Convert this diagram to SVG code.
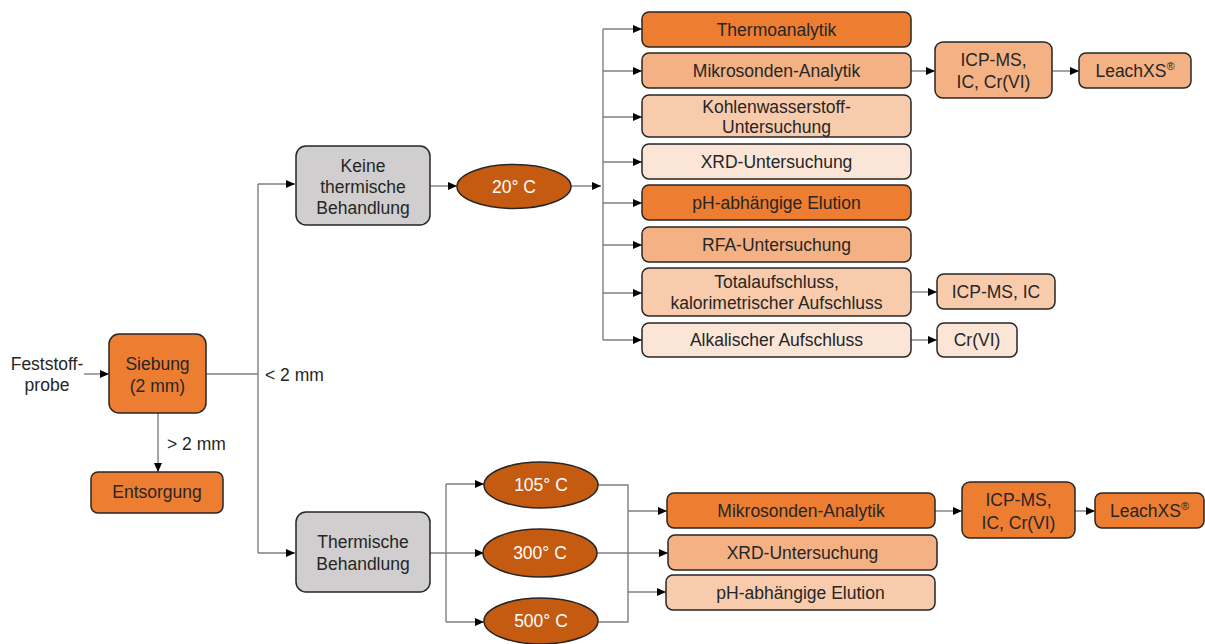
<svg xmlns="http://www.w3.org/2000/svg" width="1205" height="644" viewBox="0 0 1205 644">
<style>
.box{stroke:#262626;stroke-width:1.5}
.gray{fill:#D0CECE}
.o1{fill:#ED7D31}
.o2{fill:#F4B183}
.o3{fill:#F8CBAD}
.o4{fill:#FBE5D6}
.ell{fill:#C55A11;stroke:#262626;stroke-width:1.5}
text{font-family:"Liberation Sans",Arial,sans-serif;font-size:17.5px;fill:#262626;text-anchor:middle}
.w{fill:#FFFFFF}
.l{text-anchor:start}
.conn path{fill:none;stroke:#7F7F7F;stroke-width:1.4}
.sup{font-size:11px}
</style>
<defs>
<marker id="ah" markerUnits="userSpaceOnUse" markerWidth="9" markerHeight="8" refX="9" refY="4" orient="auto">
<path d="M0,0 L9,4 L0,8 z" fill="#000"/>
</marker>
</defs>

<g class="conn">
<path d="M84 374 H109" marker-end="url(#ah)"/>
<path d="M206 374 H258"/>
<path d="M258 184 V553"/>
<path d="M258 184 H295" marker-end="url(#ah)"/>
<path d="M258 553 H295" marker-end="url(#ah)"/>
<path d="M158 413 V472" marker-end="url(#ah)"/>
<path d="M430 186 H457" marker-end="url(#ah)"/>
<path d="M571 186 H601" marker-end="url(#ah)"/>
<path d="M603 29 V340"/>
<path d="M603 29 H642" marker-end="url(#ah)"/>
<path d="M603 71 H642" marker-end="url(#ah)"/>
<path d="M603 117 H642" marker-end="url(#ah)"/>
<path d="M603 162 H642" marker-end="url(#ah)"/>
<path d="M603 203 H642" marker-end="url(#ah)"/>
<path d="M603 245 H642" marker-end="url(#ah)"/>
<path d="M603 293 H642" marker-end="url(#ah)"/>
<path d="M603 340 H642" marker-end="url(#ah)"/>
<path d="M911 71 H935" marker-end="url(#ah)"/>
<path d="M1052 71 H1079" marker-end="url(#ah)"/>
<path d="M911 292 H937" marker-end="url(#ah)"/>
<path d="M911 340 H937" marker-end="url(#ah)"/>
<path d="M430 553 H484" marker-end="url(#ah)"/>
<path d="M446 484 V622"/>
<path d="M446 484 H484" marker-end="url(#ah)"/>
<path d="M446 622 H484" marker-end="url(#ah)"/>
<path d="M598 485 H628 V622 H598"/>
<path d="M628 511 H667" marker-end="url(#ah)"/>
<path d="M628 592 H666" marker-end="url(#ah)"/>
<path d="M597 553 H668" marker-end="url(#ah)"/>
<path d="M935 511 H962" marker-end="url(#ah)"/>
<path d="M1075 511 H1095" marker-end="url(#ah)"/>
</g>

<g id="label-feststoff">
<text x="47" y="370">Feststoff-</text>
<text x="47" y="391">probe</text>
</g>
<g id="label-lt2">
<text class="l" x="265" y="381">&lt; 2 mm</text>
</g>
<g id="label-gt2">
<text class="l" x="167" y="450">&gt; 2 mm</text>
</g>

<g id="siebung">
<rect class="box o1" x="109" y="334" width="97" height="79" rx="10"/>
<text x="157.5" y="370">Siebung</text>
<text x="157.5" y="392">(2 mm)</text>
</g>
<g id="entsorgung">
<rect class="box o1" x="91" y="472" width="132" height="41" rx="7"/>
<text x="157" y="498">Entsorgung</text>
</g>

<g id="keine">
<rect class="box gray" x="296" y="146" width="134" height="79" rx="10"/>
<text x="363" y="172">Keine</text>
<text x="363" y="193">thermische</text>
<text x="363" y="214">Behandlung</text>
</g>
<g id="t20">
<ellipse class="ell" cx="514" cy="186.5" rx="57" ry="22"/>
<text class="w" x="514" y="192.5">20° C</text>
</g>

<g id="thermoanalytik">
<rect class="box o1" x="642" y="12" width="269" height="35" rx="7"/>
<text x="776.5" y="35.5">Thermoanalytik</text>
</g>
<g id="mikrosonden1">
<rect class="box o2" x="642" y="53" width="269" height="35" rx="7"/>
<text x="776.5" y="76.5">Mikrosonden-Analytik</text>
</g>
<g id="kohlenwasserstoff">
<rect class="box o3" x="642" y="95" width="269" height="42" rx="7"/>
<text x="776.5" y="113">Kohlenwasserstoff-</text>
<text x="776.5" y="133">Untersuchung</text>
</g>
<g id="xrd1">
<rect class="box o4" x="642" y="144" width="269" height="35" rx="7"/>
<text x="776.5" y="167.5">XRD-Untersuchung</text>
</g>
<g id="ph1">
<rect class="box o1" x="642" y="185" width="269" height="35" rx="7"/>
<text x="776.5" y="208.5">pH-abhängige Elution</text>
</g>
<g id="rfa">
<rect class="box o2" x="642" y="227" width="269" height="35" rx="7"/>
<text x="776.5" y="250.5">RFA-Untersuchung</text>
</g>
<g id="totalaufschluss">
<rect class="box o3" x="642" y="268" width="269" height="48" rx="7"/>
<text x="776.5" y="288">Totalaufschluss,</text>
<text x="776.5" y="309">kalorimetrischer Aufschluss</text>
</g>
<g id="alkalisch">
<rect class="box o4" x="642" y="323" width="269" height="34" rx="7"/>
<text x="776.5" y="346">Alkalischer Aufschluss</text>
</g>

<g id="icp1">
<rect class="box o2" x="935" y="42" width="117" height="56" rx="8"/>
<text x="993.5" y="66">ICP-MS,</text>
<text x="993.5" y="88">IC, Cr(VI)</text>
</g>
<g id="leach1">
<rect class="box o2" x="1079" y="53" width="112" height="35" rx="7"/>
<text x="1135" y="76.5">LeachXS<tspan class="sup" dy="-7">®</tspan></text>
</g>
<g id="icp2">
<rect class="box o3" x="937" y="274" width="118" height="35" rx="7"/>
<text x="996" y="297.5">ICP-MS, IC</text>
</g>
<g id="cr6">
<rect class="box o4" x="937" y="323" width="80" height="34" rx="7"/>
<text x="977" y="346">Cr(VI)</text>
</g>

<g id="thermische">
<rect class="box gray" x="296" y="512" width="134" height="80" rx="10"/>
<text x="363" y="548">Thermische</text>
<text x="363" y="570">Behandlung</text>
</g>
<g id="t105">
<ellipse class="ell" cx="541" cy="485" rx="57" ry="23"/>
<text class="w" x="541" y="491">105° C</text>
</g>
<g id="t300">
<ellipse class="ell" cx="540" cy="553" rx="57" ry="24"/>
<text class="w" x="540" y="559">300° C</text>
</g>
<g id="t500">
<ellipse class="ell" cx="541" cy="621" rx="57" ry="23"/>
<text class="w" x="541" y="627">500° C</text>
</g>

<g id="mikrosonden2">
<rect class="box o1" x="667" y="493" width="268" height="35" rx="7"/>
<text x="801" y="516.5">Mikrosonden-Analytik</text>
</g>
<g id="xrd2">
<rect class="box o2" x="668" y="535" width="269" height="35" rx="7"/>
<text x="802.5" y="558.5">XRD-Untersuchung</text>
</g>
<g id="ph2">
<rect class="box o3" x="666" y="575" width="269" height="35" rx="7"/>
<text x="800.5" y="598.5">pH-abhängige Elution</text>
</g>
<g id="icp3">
<rect class="box o1" x="962" y="482" width="113" height="56" rx="8"/>
<text x="1018.5" y="506">ICP-MS,</text>
<text x="1018.5" y="529">IC, Cr(VI)</text>
</g>
<g id="leach2">
<rect class="box o1" x="1095" y="493" width="109" height="35" rx="7"/>
<text x="1149.5" y="516.5">LeachXS<tspan class="sup" dy="-7">®</tspan></text>
</g>
</svg>
